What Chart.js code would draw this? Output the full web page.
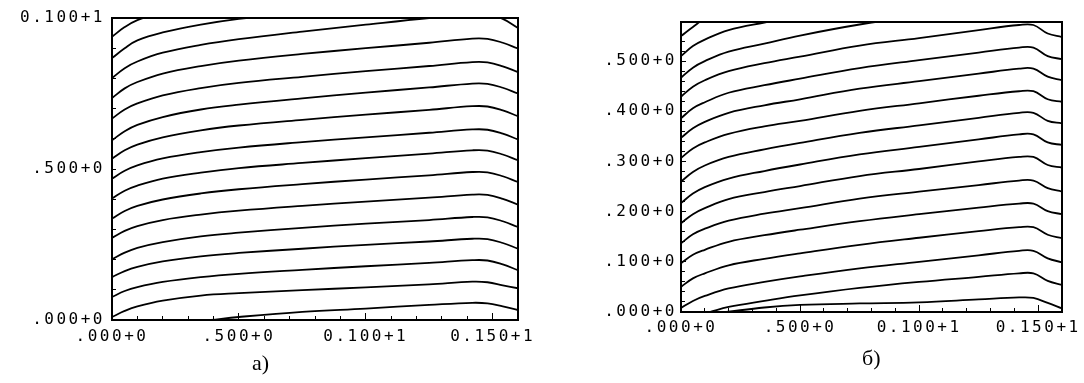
<!DOCTYPE html>
<html><head><meta charset="utf-8">
<script src="https://cdn.jsdelivr.net/npm/chart.js@4/dist/chart.umd.min.js"></script>
<style>
html,body{margin:0;padding:0;background:#fff;overflow:hidden;}
#wrap{position:relative;width:1084px;height:383px;overflow:hidden;background:#fff;}
#ca{position:absolute;left:0;top:0;}
#cb{position:absolute;left:560px;top:0;}
.cap{position:absolute;font-family:"Liberation Serif","Times New Roman",serif;font-size:22px;line-height:22px;color:#000;white-space:nowrap;}
</style></head><body>
<div id="wrap">
<canvas id="ca" width="560" height="383"></canvas>
<canvas id="cb" width="524" height="383"></canvas>
<div class="cap" style="left:252px;top:352px;">а)</div>
<div class="cap" style="left:862px;top:347px;">б)</div>
</div>
<script>
// ---------- Panel a data ----------
const X_A = [0, 0.05, 0.1, 0.2, 0.35, 0.5, 0.75, 1.0, 1.25, 1.42, 1.48, 1.54, 1.6];
const A01_X = [0.39, 0.5, 0.75, 1.0, 1.25, 1.42, 1.48, 1.54, 1.6];
const A01 = [0, 0.010, 0.027, 0.038, 0.050, 0.057, 0.055, 0.045, 0.033];
const A02 = [0.010, 0.030, 0.045, 0.064, 0.081, 0.089, 0.099, 0.108, 0.118, 0.127, 0.125, 0.115, 0.105];
const A03 = [0.076, 0.096, 0.109, 0.126, 0.142, 0.153, 0.166, 0.178, 0.189, 0.198, 0.197, 0.184, 0.165];
const A04 = [0.142, 0.162, 0.176, 0.194, 0.211, 0.222, 0.236, 0.249, 0.260, 0.269, 0.268, 0.255, 0.236];
const A05 = [0.201, 0.223, 0.239, 0.258, 0.277, 0.289, 0.305, 0.319, 0.331, 0.341, 0.340, 0.327, 0.308];
const A06 = [0.272, 0.295, 0.311, 0.331, 0.349, 0.362, 0.378, 0.392, 0.405, 0.415, 0.414, 0.401, 0.382];
const A07 = [0.336, 0.361, 0.378, 0.399, 0.419, 0.433, 0.450, 0.465, 0.479, 0.490, 0.489, 0.476, 0.457];
const A08 = [0.402, 0.428, 0.445, 0.468, 0.488, 0.503, 0.520, 0.536, 0.551, 0.562, 0.561, 0.548, 0.529];
const A09 = [0.468, 0.494, 0.512, 0.535, 0.556, 0.571, 0.589, 0.605, 0.620, 0.631, 0.630, 0.617, 0.598];
const A10 = [0.534, 0.562, 0.581, 0.605, 0.628, 0.644, 0.663, 0.680, 0.696, 0.708, 0.707, 0.694, 0.675];
const A11 = [0.595, 0.625, 0.646, 0.672, 0.697, 0.713, 0.734, 0.753, 0.770, 0.783, 0.782, 0.769, 0.750];
const A12 = [0.667, 0.697, 0.717, 0.744, 0.768, 0.785, 0.805, 0.824, 0.841, 0.854, 0.853, 0.840, 0.821];
const A13 = [0.735, 0.767, 0.788, 0.816, 0.841, 0.859, 0.881, 0.900, 0.918, 0.932, 0.931, 0.918, 0.899];
const A14 = [0.801, 0.834, 0.856, 0.885, 0.911, 0.930, 0.955, 0.978, 1.000, 1.012, 1.011, 0.997, 0.967];
const A15 = [0.867, 0.900, 0.926, 0.952, 0.978, 0.997, 1.020, 1.040, null, null, null, null, null];
const A16 = [0.938, 0.970, 0.993, 1.020, null, null, null, null, null, null, null, null, null];
const A_X_TICKS = [0, 0.5, 1.0, 1.5];
const A_X_LABELS = ['.000+0', '.500+0', '0.100+1', '0.150+1'];
const A_Y_TICKS = [0, 0.5, 1.0];
const A_Y_LABELS = ['.000+0', '.500+0', '0.100+1'];

// ---------- Panel b data ----------
const X_B = [0, 0.05, 0.1, 0.2, 0.35, 0.5, 0.75, 1.0, 1.25, 1.42, 1.48, 1.54, 1.6];
const B01 = [0.550, 0.568, 0.584, 0.600, null, null, null, null, null, null, null, null, null];
const B02 = [0.510, 0.530, 0.543, 0.562, 0.577, 0.590, 0.610, null, null, null, null, null, null];
const B03 = [0.467, 0.487, 0.500, 0.519, 0.535, 0.551, 0.573, 0.590, 0.605, 0.612, 0.612, 0.597, 0.590];
const B04 = [0.429, 0.449, 0.462, 0.480, 0.496, 0.509, 0.531, 0.546, 0.562, 0.572, 0.572, 0.555, 0.548];
const B05 = [0.386, 0.406, 0.418, 0.437, 0.452, 0.465, 0.486, 0.502, 0.517, 0.527, 0.527, 0.510, 0.504];
const B06 = [0.347, 0.366, 0.379, 0.397, 0.412, 0.424, 0.445, 0.460, 0.475, 0.485, 0.485, 0.469, 0.462];
const B07 = [0.307, 0.326, 0.338, 0.355, 0.370, 0.381, 0.401, 0.416, 0.431, 0.440, 0.440, 0.424, 0.419];
const B08 = [0.260, 0.279, 0.292, 0.309, 0.324, 0.337, 0.357, 0.372, 0.387, 0.397, 0.397, 0.381, 0.376];
const B09 = [0.217, 0.236, 0.249, 0.266, 0.281, 0.294, 0.314, 0.329, 0.344, 0.354, 0.354, 0.338, 0.333];
const B10 = [0.177, 0.195, 0.207, 0.225, 0.239, 0.251, 0.271, 0.285, 0.300, 0.309, 0.309, 0.293, 0.288];
const B11 = [0.137, 0.155, 0.166, 0.182, 0.196, 0.207, 0.226, 0.240, 0.253, 0.262, 0.262, 0.247, 0.240];
const B12 = [0.097, 0.114, 0.124, 0.140, 0.153, 0.164, 0.181, 0.195, 0.208, 0.216, 0.216, 0.201, 0.195];
const B13 = [0.050, 0.067, 0.077, 0.093, 0.106, 0.117, 0.134, 0.148, 0.161, 0.169, 0.169, 0.154, 0.147];
const B14 = [0.008, 0.022, 0.032, 0.047, 0.060, 0.071, 0.087, 0.100, 0.113, 0.122, 0.122, 0.107, 0.099];
const B15_X = [0.12, 0.2, 0.35, 0.5, 0.75, 1.0, 1.25, 1.42, 1.48, 1.54, 1.6];
const B15 = [0, 0.010, 0.022, 0.033, 0.048, 0.060, 0.070, 0.077, 0.077, 0.062, 0.054];
const B16_X = [0.19, 0.35, 0.5, 0.75, 1.0, 1.25, 1.42, 1.48, 1.54, 1.6];
const B16 = [0, 0.009, 0.014, 0.017, 0.019, 0.025, 0.029, 0.028, 0.018, 0.007];
const B_X_TICKS = [0, 0.5, 1.0, 1.5];
const B_X_LABELS = ['.000+0', '.500+0', '0.100+1', '0.150+1'];
const B_Y_TICKS = [0, 0.1, 0.2, 0.3, 0.4, 0.5];
const B_Y_LABELS = ['.000+0', '.100+0', '.200+0', '.300+0', '.400+0', '.500+0'];

// ---------- builder ----------
const TICK_FONT = {family: '"DejaVu Sans Mono", "Liberation Mono", monospace', size: 16};
const spacing = {
  id: 'letterSpacing',
  beforeDraw(c) { c.ctx.letterSpacing = '2.5px'; },
  afterDraw(c) { c.ctx.letterSpacing = '0px'; }
};

function build(id, o) {
  const datasets = o.lines.map(l => ({
    data: l.x.map((x, i) => ({x: x, y: l.y[i]})),
    borderColor: '#000', borderWidth: 1.8, pointRadius: 0, fill: false,
    tension: 0.4, spanGaps: false
  }));
  const tickGrid = (len) => ({display: true, drawOnChartArea: false, drawTicks: true, tickLength: len, color: '#000', lineWidth: 1});
  return new Chart(document.getElementById(id), {
    type: 'line',
    data: {datasets},
    plugins: [spacing],
    options: {
      responsive: false, animation: false, devicePixelRatio: 1,
      layout: {padding: o.padding},
      plugins: {legend: {display: false}, tooltip: {enabled: false}, title: {display: false}},
      scales: {
        x: {
          type: 'linear', position: 'bottom', weight: 1, min: 0, max: 1.6,
          afterBuildTicks: s => { s.ticks = o.xTicks.map(v => ({value: v})); },
          afterFit: s => { s.height = o.xAxisH; s.paddingLeft = 0; s.paddingRight = 0; },
          ticks: {autoSkip: false, maxRotation: 0, minRotation: 0, padding: o.xPad, color: '#000', font: TICK_FONT,
                  callback: (v, i) => o.xLabels[i]},
          grid: tickGrid(o.xMajorLen),
          border: {display: true, color: '#000', width: 2}
        },
        xMinor: {
          type: 'linear', position: 'bottom', weight: 0, min: 0, max: 1.6,
          ticks: {display: false, stepSize: 0.1},
          grid: tickGrid(o.xMinorLen),
          border: {display: false},
          afterFit: s => { s.height = 0; s.paddingLeft = 0; s.paddingRight = 0; }
        },
        xTop: {
          type: 'linear', position: 'top', min: 0, max: 1.6,
          ticks: {display: false}, grid: {display: false},
          border: {display: true, color: '#000', width: 2},
          afterFit: s => { s.height = 0; s.paddingLeft = 0; s.paddingRight = 0; }
        },
        y: {
          type: 'linear', position: 'left', weight: 1, min: 0, max: o.yMax,
          afterBuildTicks: s => { s.ticks = o.yTicks.map(v => ({value: v})); },
          afterFit: s => { s.width = o.yAxisW; s.paddingTop = 0; s.paddingBottom = 0; },
          ticks: {autoSkip: false, padding: o.yPad, color: '#000', font: TICK_FONT,
                  callback: (v, i) => o.yLabels[i]},
          grid: tickGrid(o.yMajorLen),
          border: {display: true, color: '#000', width: 2}
        },
        yMinor: {
          type: 'linear', position: 'left', weight: 0, min: 0, max: o.yMax,
          ticks: {display: false, stepSize: o.yMinorStep},
          grid: tickGrid(o.yMinorLen),
          border: {display: false},
          afterFit: s => { s.width = 0; s.paddingTop = 0; s.paddingBottom = 0; }
        },
        yRight: {
          type: 'linear', position: 'right', min: 0, max: o.yMax,
          ticks: {display: false}, grid: {display: false},
          border: {display: true, color: '#000', width: 2},
          afterFit: s => { s.width = 0; s.paddingTop = 0; s.paddingBottom = 0; }
        }
      }
    }
  });
}

build('ca', {
  lines: [
    {x: A01_X, y: A01}, {x: X_A, y: A02}, {x: X_A, y: A03}, {x: X_A, y: A04},
    {x: X_A, y: A05}, {x: X_A, y: A06}, {x: X_A, y: A07}, {x: X_A, y: A08},
    {x: X_A, y: A09}, {x: X_A, y: A10}, {x: X_A, y: A11}, {x: X_A, y: A12},
    {x: X_A, y: A13}, {x: X_A, y: A14}, {x: X_A, y: A15}, {x: X_A, y: A16}
  ],
  padding: {top: 18, right: 42, left: 0, bottom: 0},
  yAxisW: 112, xAxisH: 63, yMax: 1, yMinorStep: 0.1,
  xTicks: A_X_TICKS, xLabels: A_X_LABELS, yTicks: A_Y_TICKS, yLabels: A_Y_LABELS,
  xPad: 14, yPad: 11, xMajorLen: -7, xMinorLen: -4, yMajorLen: -4, yMinorLen: -4
});

build('cb', {
  lines: [
    {x: X_B, y: B01}, {x: X_B, y: B02}, {x: X_B, y: B03}, {x: X_B, y: B04},
    {x: X_B, y: B05}, {x: X_B, y: B06}, {x: X_B, y: B07}, {x: X_B, y: B08},
    {x: X_B, y: B09}, {x: X_B, y: B10}, {x: X_B, y: B11}, {x: X_B, y: B12},
    {x: X_B, y: B13}, {x: X_B, y: B14}, {x: B15_X, y: B15}, {x: B16_X, y: B16}
  ],
  padding: {top: 22, right: 22, left: 0, bottom: 0},
  yAxisW: 121, xAxisH: 71, yMax: 0.578, yMinorStep: 0.02,
  xTicks: B_X_TICKS, xLabels: B_X_LABELS, yTicks: B_Y_TICKS, yLabels: B_Y_LABELS,
  xPad: 13, yPad: 9, xMajorLen: -7, xMinorLen: -4, yMajorLen: -5, yMinorLen: -4
});
</script>
</body></html>
